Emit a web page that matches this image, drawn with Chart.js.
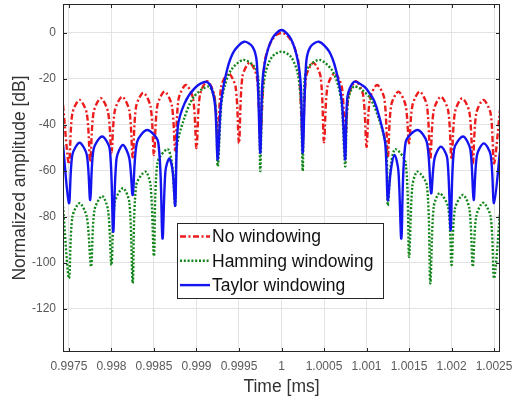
<!DOCTYPE html>
<html>
<head>
<meta charset="utf-8">
<script src="https://cdn.jsdelivr.net/npm/chart.js@4.4.1/dist/chart.umd.min.js"></script>
<style>
  html, body { margin: 0; padding: 0; background: #fff; }
  #wrap { width: 513px; height: 402px; position: relative; }
</style>
</head>
<body>
<div id="wrap"><canvas id="windowChart"></canvas></div>
<script>
/* ── Data (time in ms, amplitude in dB) ── */
const seriesNames = ['No windowing', 'Hamming windowing', 'Taylor windowing'];

const timeNoWin = [
  0.99743, 0.99750, 0.99754, 0.997625, 0.99771, 0.99775, 0.99779, 0.997875, 0.99796, 0.99800,
  0.99804, 0.998125, 0.99821, 0.99825, 0.99829, 0.998375, 0.99846, 0.99850, 0.99854, 0.998625,
  0.99871, 0.99875, 0.99879, 0.998875, 0.99896, 0.99900, 0.99904, 0.999125, 0.99921, 0.99925,
  0.99929, 0.999375, 0.99946, 0.99950, 0.99954, 0.999625, 0.99971, 0.99975,
  0.99980, 0.99985, 0.99990, 0.99995, 1.00000, 1.00005, 1.00010, 1.00015, 1.00020,
  1.00025, 1.00029, 1.000375, 1.00046, 1.00050, 1.00054, 1.000625, 1.00071, 1.00075,
  1.00079, 1.000875, 1.00096, 1.00100, 1.00104, 1.001125, 1.00121, 1.00125, 1.00129, 1.001375,
  1.00146, 1.00150, 1.00154, 1.001625, 1.00171, 1.00175, 1.00179, 1.001875, 1.00196, 1.00200,
  1.00204, 1.002125, 1.00221, 1.00225, 1.00229, 1.002375, 1.00246, 1.00250, 1.00257
];
const dbNoWin = [
  -31.3, -57, -35, -29.1, -35, -56, -34.4, -28.4, -34.4, -52,
  -33.7, -27.7, -33.7, -54, -32, -26, -32, -53, -31.5, -25.5,
  -31.5, -51, -28.6, -22.6, -28.6, -50, -27, -21, -27, -47,
  -23.5, -17.5, -23.5, -48, -19, -13, -19, -46,
  -13, -6, -2.5, -0.6, 0, -0.6, -2.5, -6, -13,
  -46, -19, -13, -19, -47.4, -23.5, -17.5, -23.5, -47,
  -27, -21, -27, -49.5, -28.6, -22.6, -28.6, -54, -31.5, -25.5,
  -31.5, -48, -31.5, -25.5, -31.5, -55, -33.7, -27.7, -33.7, -55,
  -34.4, -28.4, -34.4, -56.7, -35.1, -29.1, -35.1, -56.7, -33.5
];

const timeHamming = [
  0.99743, 0.99750, 0.99754, 0.997625, 0.99771, 0.99776, 0.99780, 0.99789, 0.99796, 0.99800,
  0.99804, 0.998135, 0.99821, 0.99825, 0.99829, 0.99840, 0.99846, 0.99850, 0.99854, 0.99866,
  0.99871, 0.99875, 0.99877, 0.99885, 0.99897, 0.999145, 0.99922, 0.99925,
  0.99929, 0.99933, 0.99941, 0.99955, 0.99968, 0.99973, 0.99975,
  0.999773, 0.99981, 0.99989, 1.00000, 1.00011, 1.00019, 1.000227,
  1.00025, 1.00027, 1.00032, 1.00045, 1.00059, 1.00067, 1.00071, 1.00075,
  1.00078, 1.000855, 1.00103, 1.00115, 1.00123, 1.00125,
  1.00129, 1.00134, 1.00146, 1.00150, 1.00154, 1.00160, 1.00171, 1.00175,
  1.00179, 1.00186, 1.00196, 1.00200, 1.00204, 1.002135, 1.00221, 1.00225,
  1.00229, 1.00237, 1.00246, 1.00250, 1.00257
];
const dbHamming = [
  -75.5, -106.7, -80, -74, -80, -101.6, -77, -70.9, -77, -100.9,
  -73.5, -67.5, -73.5, -108.8, -66.3, -60.3, -66.3, -97, -56.5, -50.5,
  -56.5, -75, -49.4, -37.8, -27.7, -23.3, -30, -58,
  -32, -23.3, -16, -11.7, -14.6, -20.4, -60,
  -30, -17.5, -10.3, -8.1, -10.3, -17.5, -30,
  -60, -20.4, -14.6, -11.7, -16, -23.3, -32, -58,
  -30, -23.3, -27.7, -37.8, -49.4, -75,
  -56.5, -50.5, -56.5, -97.3, -66.3, -60.3, -66.3, -108.8,
  -75.7, -69.7, -75.7, -100.9, -76.4, -70.4, -76.4, -101.6,
  -79.8, -73.8, -79.8, -106.7, -78.4
];

const timeTaylor = [
  0.99743, 0.99750, 0.99754, 0.997625, 0.99771, 0.99775, 0.99779, 0.99789, 0.99798, 0.99802,
  0.99806, 0.998135, 0.99821, 0.99825, 0.99830, 0.99842, 0.99855, 0.99860, 0.998635, 0.99868,
  0.99872, 0.99875, 0.99878, 0.99886, 0.99898, 0.99911, 0.99917, 0.99922, 0.99925,
  0.99929, 0.99936, 0.99944, 0.99956, 0.99966, 0.99971, 0.99975,
  0.999773, 0.99981, 0.99989, 1.00000, 1.00011, 1.00019, 1.000227,
  1.00025, 1.00029, 1.00034, 1.00044, 1.00056, 1.00064, 1.00071, 1.00075,
  1.000776, 1.000855, 1.000973, 1.001035, 1.00109, 1.00115, 1.00122, 1.00125,
  1.001285, 1.00133, 1.001375, 1.00141, 1.00146, 1.00160, 1.00171, 1.00176,
  1.00180, 1.001875, 1.00195, 1.00199, 1.00203, 1.002135, 1.00222, 1.00226,
  1.00230, 1.00238, 1.00246, 1.00250, 1.00257
];
const dbTaylor = [
  -48.7, -74, -53, -47.7, -53, -72.6, -50.5, -45, -50.5, -86.4,
  -54.5, -48.7, -54.5, -70.4, -47.5, -42.2, -47.5, -89.3, -60, -54.5,
  -60, -75, -41, -30.6, -24, -21.2, -23.3, -32, -55,
  -30, -16, -8, -3.8, -6, -13, -52,
  -23, -11.7, -2.5, 1.3, -2.5, -11.7, -23,
  -52, -13, -6, -3.8, -8, -16, -30, -55,
  -27.7, -21.2, -23.3, -26.2, -29.5, -36.4, -48, -72.6,
  -60, -53, -60, -89.3, -47.5, -42.2, -47.5, -69.7,
  -54.5, -49.4, -54.5, -85.7, -50.5, -45, -50.5, -72.6,
  -53, -48, -53, -74, -51.6
];

const xTickVals = [0.9975, 0.998, 0.9985, 0.999, 0.9995, 1, 1.0005, 1.001, 1.0015, 1.002, 1.0025];
const xTickLabels = ['0.9975', '0.998', '0.9985', '0.999', '0.9995', '1', '1.0005', '1.001', '1.0015', '1.002', '1.0025'];
const yTickVals = [-120, -100, -80, -60, -40, -20, 0];

/* ── helpers ── */
function toPoints(times, values) {
  return times.map((t, i) => ({ x: t, y: values[i] }));
}

const FONT = '"Liberation Sans", Arial, Helvetica, sans-serif';
const lineStyles = [
  { color: '#ec1c1c', dash: [6, 2.5, 2, 2.5], width: 2.4 },
  { color: '#12861a', dash: [2, 1.8], width: 2.4 },
  { color: '#1414f0', dash: [], width: 2.4 }
];

/* ── frame, inward ticks and legend box (MATLAB look) ── */
const framePlugin = {
  id: 'frame',
  afterDraw(chart) {
    const { ctx, chartArea: a, scales } = chart;
    ctx.save();
    ctx.strokeStyle = '#262626';
    ctx.lineWidth = 1;
    ctx.strokeRect(a.left + 0.5, a.top + 0.5, a.right - a.left - 1, a.bottom - a.top - 1);

    // small inward ticks on all four sides
    ctx.beginPath();
    xTickVals.forEach(v => {
      const px = Math.round(scales.x.getPixelForValue(v)) + 0.5;
      ctx.moveTo(px, a.bottom); ctx.lineTo(px, a.bottom - 4);
      ctx.moveTo(px, a.top); ctx.lineTo(px, a.top + 4);
    });
    yTickVals.forEach(v => {
      const py = Math.round(scales.y.getPixelForValue(v)) + 0.5;
      ctx.moveTo(a.left, py); ctx.lineTo(a.left + 4, py);
      ctx.moveTo(a.right, py); ctx.lineTo(a.right - 4, py);
    });
    ctx.stroke();

    // legend
    const box = { x: 177, y: 223, w: 206, h: 75 };
    ctx.fillStyle = '#fff';
    ctx.fillRect(box.x, box.y, box.w, box.h);
    ctx.strokeStyle = '#262626';
    ctx.strokeRect(box.x + 0.5, box.y + 0.5, box.w, box.h);
    ctx.font = '17.5px ' + FONT;
    ctx.textBaseline = 'middle';
    ctx.textAlign = 'left';
    seriesNames.forEach((name, i) => {
      const rowY = box.y + 13.5 + i * 24.3;
      const st = lineStyles[i];
      ctx.beginPath();
      ctx.setLineDash(st.dash);
      ctx.strokeStyle = st.color;
      ctx.lineWidth = st.width;
      ctx.moveTo(box.x + 3, rowY);
      ctx.lineTo(box.x + 33, rowY);
      ctx.stroke();
      ctx.setLineDash([]);
      ctx.fillStyle = '#111';
      ctx.fillText(name, box.x + 35, rowY + 1);
    });
    ctx.restore();
  }
};

const datasets = [
  { label: seriesNames[0], data: toPoints(timeNoWin, dbNoWin), order: 2 },
  { label: seriesNames[1], data: toPoints(timeHamming, dbHamming), order: 1 },
  { label: seriesNames[2], data: toPoints(timeTaylor, dbTaylor), order: 0 }
].map((d, i) => Object.assign(d, {
  borderColor: lineStyles[i].color,
  borderDash: lineStyles[i].dash,
  borderWidth: lineStyles[i].width,
  pointRadius: 0,
  tension: 0.3,
  fill: false
}));

new Chart(document.getElementById('windowChart').getContext('2d'), {
  type: 'line',
  data: { datasets },
  plugins: [framePlugin],
  options: {
    responsive: true,
    maintainAspectRatio: false,
    animation: false,
    layout: { padding: { left: 0, right: 13, top: 4, bottom: 0 } },
    plugins: { legend: { display: false }, tooltip: { enabled: false } },
    scales: {
      x: {
        type: 'linear',
        min: 0.99743,
        max: 1.00257,
        afterBuildTicks: s => { s.ticks = xTickVals.map(v => ({ value: v })); },
        afterFit: s => { s.height = 50; s.paddingLeft = 0; s.paddingRight = 0; },
        ticks: {
          autoSkip: false, maxRotation: 0, padding: 7,
          color: '#5a5a5a', font: { family: FONT, size: 12 },
          callback: (v, i) => xTickLabels[i]
        },
        grid: { color: '#e3e3e3', drawTicks: false },
        border: { display: false },
        title: {
          display: true, text: 'Time [ms]', color: '#333',
          font: { family: FONT, size: 17.5 }, padding: { top: 0, bottom: 4 }
        }
      },
      y: {
        min: -138.7,
        max: 12.6,
        afterBuildTicks: s => { s.ticks = yTickVals.map(v => ({ value: v })); },
        afterFit: s => { s.width = 63; s.paddingTop = 0; s.paddingBottom = 0; },
        ticks: { padding: 7, color: '#5a5a5a', font: { family: FONT, size: 12 } },
        grid: { color: '#e3e3e3', drawTicks: false },
        border: { display: false },
        title: {
          display: true, text: 'Normalized amplitude [dB]', color: '#333',
          font: { family: FONT, size: 17.5 }, padding: { top: 9.5, bottom: 0 }
        }
      }
    }
  }
});
</script>
</body>
</html>
